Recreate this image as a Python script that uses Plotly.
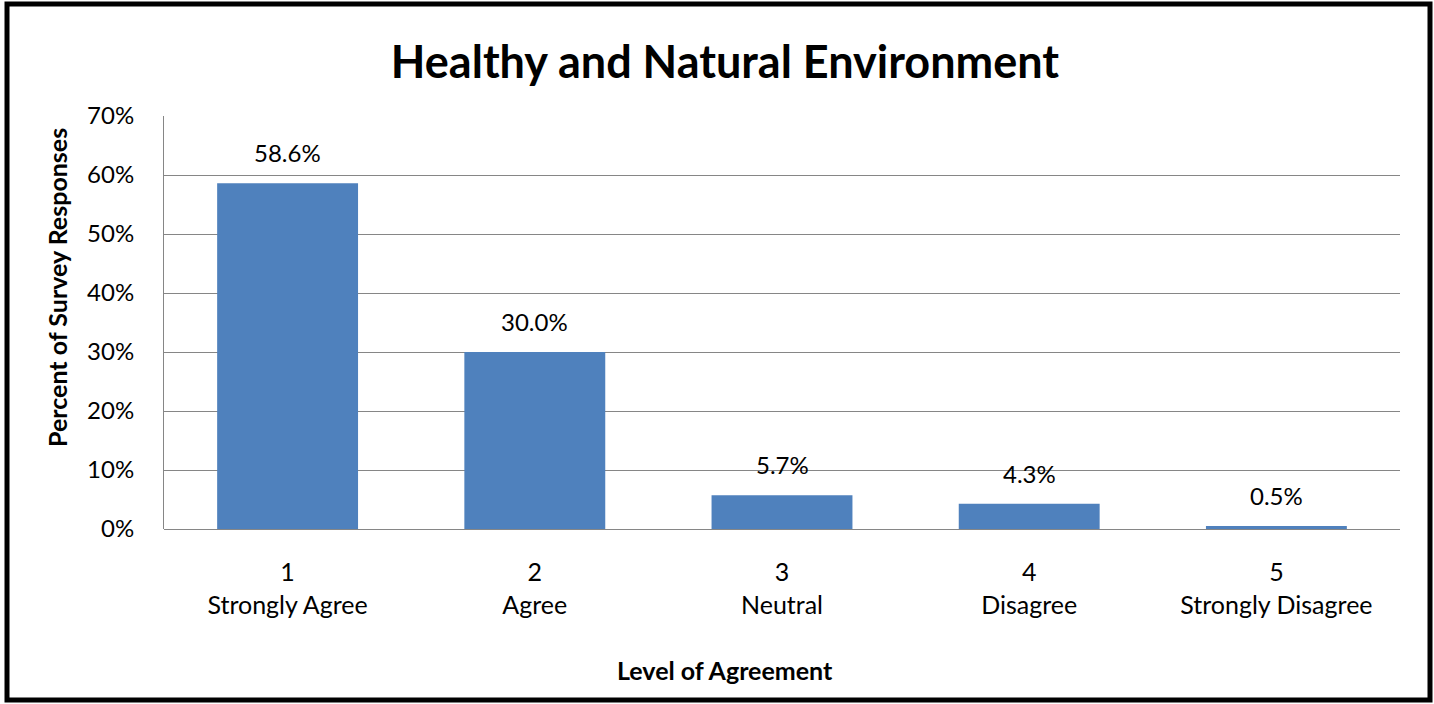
import plotly.graph_objects as go

categories = ["1<br>Strongly Agree", "2<br>Agree", "3<br>Neutral", "4<br>Disagree", "5<br>Strongly Disagree"]
percent = [58.6, 30.0, 5.7, 4.3, 0.5]
y_ticks = [0, 10, 20, 30, 40, 50, 60, 70]
y_tick_labels = [f"{v}%" for v in y_ticks]

W, H = 1434, 704
L, R, T, B = 164, 34, 116, 175
pw, ph = W - L - R, H - T - B

font = "Lato, 'Open Sans', sans-serif"


def px_x(x):
    return (x - L) / pw


def px_y(y):
    return (T + ph - y) / ph


fig = go.Figure(go.Bar(
    x=categories, y=percent,
    marker=dict(color="#4f81bd", line=dict(width=0)),
    width=0.57,
    cliponaxis=False,
    hoverinfo="y",
))

# value labels above bars
for c, v in zip(categories, percent):
    fig.add_annotation(x=c, y=v, text=f"{v:.1f}%", showarrow=False,
                       yanchor="bottom", yshift=14, font=dict(size=24, color="#000000"))

# axis titles (Excel centres them on the chart, not the plot area)
fig.add_annotation(xref="paper", yref="paper", x=px_x(57), y=px_y(288),
                   text="<b>Percent of Survey Responses</b>", textangle=-90, showarrow=False,
                   xanchor="center", yanchor="middle", font=dict(size=25))
fig.add_annotation(xref="paper", yref="paper", x=px_x(725), y=px_y(670),
                   text="<b>Level of Agreement</b>", showarrow=False,
                   xanchor="center", yanchor="middle", font=dict(size=25))

fig.update_layout(
    width=W, height=H,
    margin=dict(l=L, r=R, t=T, b=B),
    paper_bgcolor="white", plot_bgcolor="white",
    font=dict(family=font, color="#000000"),
    title=dict(text="<b>Healthy and Natural Environment</b>", x=725 / W, xanchor="center",
               y=1 - 62 / H, yanchor="middle", font=dict(size=45, family=font)),
    showlegend=False,
    bargap=0.43,
)

fig.update_xaxes(
    showgrid=False, showline=False, ticks="", tickfont=dict(size=25),
    ticklabelstandoff=26,
)
fig.update_yaxes(
    range=[0, 70], tickvals=y_ticks, ticktext=y_tick_labels,
    showgrid=True, gridcolor="#868686", gridwidth=1,
    showline=True, linecolor="#868686", linewidth=1,
    zeroline=True, zerolinecolor="#868686", zerolinewidth=1,
    ticks="", tickfont=dict(size=24), ticklabelstandoff=24,
)

# outer black frame around the whole chart
fig.add_shape(type="rect", xref="paper", yref="paper",
              x0=px_x(7), x1=px_x(1430), y0=px_y(700), y1=px_y(4),
              line=dict(color="black", width=5), fillcolor="rgba(0,0,0,0)", layer="above")

fig.write_html("out.html", config={"displayModeBar": False},
               post_script="document.body.style.margin='0px';")
